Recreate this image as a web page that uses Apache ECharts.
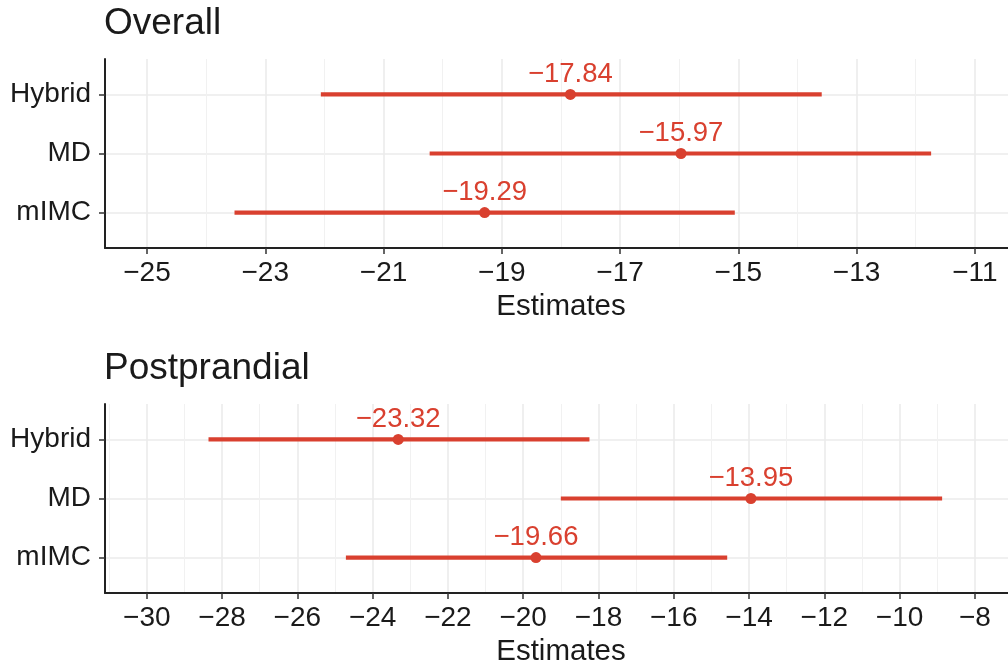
<!DOCTYPE html>
<html>
<head>
<meta charset="utf-8">
<style>
  html, body { margin: 0; padding: 0; background: #ffffff; }
  #chart { width: 1008px; height: 670px; }
</style>
<script src="https://cdn.jsdelivr.net/npm/echarts@6/dist/echarts.min.js"></script>
</head>
<body>
<div id="chart"></div>
<script>
// Rows, top to bottom
const categories = ['Hybrid', 'MD', 'mIMC'];

// Overall: point estimates and confidence bounds
const overallEst  = [-17.84, -15.97, -19.29];
const overallLow  = [-22.06, -20.22, -23.52];
const overallHigh = [-13.59, -11.74, -15.06];

// Postprandial: point estimates and confidence bounds
const postEst  = [-23.32, -13.95, -19.66];
const postLow  = [-28.36, -19.00, -24.71];
const postHigh = [-18.24, -8.87, -14.58];

// Axis ticks (major labelled, minor grid only)
const overallTicks = [-25, -23, -21, -19, -17, -15, -13, -11];
const overallMinor = [-24, -22, -20, -18, -16, -14, -12];
const postTicks = [-30, -28, -26, -24, -22, -20, -18, -16, -14, -12, -10, -8];
const postMinor = [-31, -29, -27, -25, -23, -21, -19, -17, -15, -13, -11, -9];

const RED = '#D9402F';
const TEXT = '#1A1A1A';
const FONT = '"Liberation Sans", Arial, sans-serif';

const rowY = i => categories.length - i; // Hybrid at top
const minus = v => (v < 0 ? '\u2212' : '') + Math.abs(v);

function ciData(low, high) {
  return categories.map((c, i) => [low[i], rowY(i), high[i]]);
}
function estData(est) {
  return categories.map((c, i) => [est[i], rowY(i)]);
}

const gridBase = { left: 105, right: 0, height: 189 };

function makeXAxes(gridIndex, min, max, ticks, minor) {
  return [
    {
      type: 'value', gridIndex, min, max,
      name: 'Estimates', nameLocation: 'middle', nameGap: 44,
      nameTextStyle: { fontSize: 29.5, color: TEXT, fontFamily: FONT, padding: [0, 0, 0, 9] },
      axisLine: { show: true, lineStyle: { color: '#222222', width: 2 } },
      axisTick: { show: true, length: 6, customValues: ticks, lineStyle: { color: '#333333', width: 1.5 } },
      axisLabel: { customValues: ticks, fontSize: 28, color: TEXT, fontFamily: FONT, margin: 11, formatter: minus },
      splitLine: { show: true, lineStyle: { color: '#EBEBEB', width: 1.6 } },
      z: 3
    },
    {
      type: 'value', gridIndex, min, max,
      axisLine: { show: false },
      axisTick: { show: false, customValues: minor },
      axisLabel: { show: false, customValues: minor },
      splitLine: { show: true, lineStyle: { color: '#F1F1F1', width: 1 } },
      z: 0
    }
  ];
}

function makeYAxis(gridIndex) {
  const vals = categories.map((c, i) => rowY(i));
  return {
    type: 'value', gridIndex, min: 0.4, max: 3.6,
    axisLine: { show: true, lineStyle: { color: '#222222', width: 2 } },
    axisTick: { show: true, length: 6, customValues: vals, lineStyle: { color: '#333333', width: 1.5 } },
    axisLabel: {
      customValues: vals, fontSize: 28, color: TEXT, fontFamily: FONT, margin: 14,
      formatter: v => categories[categories.length - Math.round(v)]
    },
    splitLine: { show: true, lineStyle: { color: '#EBEBEB', width: 1.6 } }
  };
}

function ciSeries(xAxisIndex, yAxisIndex, low, high) {
  return {
    type: 'custom', xAxisIndex, yAxisIndex,
    data: ciData(low, high),
    encode: { x: [0, 2], y: 1 },
    renderItem: (params, api) => {
      const y = api.value(1);
      const a = api.coord([api.value(0), y]);
      const b = api.coord([api.value(2), y]);
      return {
        type: 'line',
        shape: { x1: a[0], y1: a[1], x2: b[0], y2: b[1] },
        style: { stroke: RED, lineWidth: 4.2 }
      };
    },
    z: 4
  };
}

function pointSeries(xAxisIndex, yAxisIndex, est) {
  return {
    type: 'scatter', xAxisIndex, yAxisIndex,
    data: estData(est),
    symbolSize: 11,
    itemStyle: { color: RED, opacity: 1 },
    label: {
      show: true, position: 'top', distance: 1,
      color: RED, fontSize: 27.5, fontFamily: FONT,
      formatter: p => minus(p.value[0].toFixed(2))
    },
    emphasis: { disabled: true },
    z: 5
  };
}

const chart = echarts.init(document.getElementById('chart'), null, { renderer: 'canvas' });
chart.setOption({
  animation: false,
  backgroundColor: '#ffffff',
  title: [
    { text: 'Overall', left: 104, top: 5, padding: 0,
      textStyle: { fontSize: 37, fontWeight: 'normal', color: TEXT, fontFamily: FONT } },
    { text: 'Postprandial', left: 104, top: 350, padding: 0,
      textStyle: { fontSize: 37, fontWeight: 'normal', color: TEXT, fontFamily: FONT } }
  ],
  grid: [
    Object.assign({ top: 59 }, gridBase),
    Object.assign({ top: 404 }, gridBase)
  ],
  xAxis: [
    ...makeXAxes(0, -25.71, -10.44, overallTicks, overallMinor),
    ...makeXAxes(1, -31.11, -7.12, postTicks, postMinor)
  ],
  yAxis: [makeYAxis(0), makeYAxis(1)],
  series: [
    ciSeries(0, 0, overallLow, overallHigh),
    pointSeries(0, 0, overallEst),
    ciSeries(2, 1, postLow, postHigh),
    pointSeries(2, 1, postEst)
  ]
});
</script>
</body>
</html>
